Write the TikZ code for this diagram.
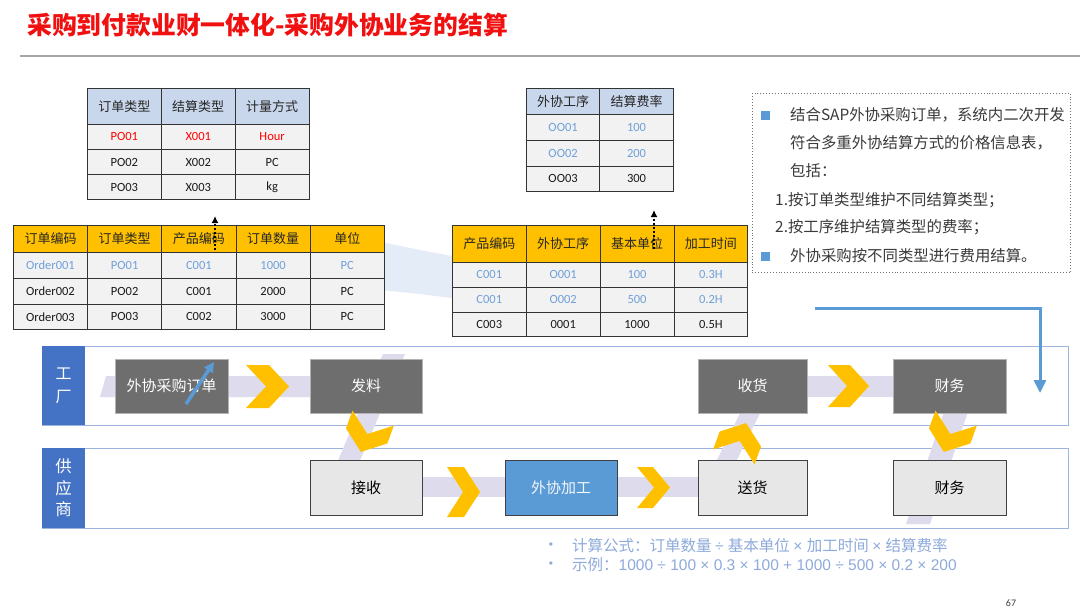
\documentclass[tikz,border=0pt]{standalone}
\usepackage{fontspec}
\setmainfont{Carlito}
\newfontfamily\cjk{Noto Sans CJK SC}
\newfontfamily\arialf{Liberation Sans}
\usetikzlibrary{matrix,arrows.meta}
\definecolor{titlered}{HTML}{F01010}
\definecolor{hdrblue}{HTML}{C9D7EC}
\definecolor{rowgray}{HTML}{F2F2F2}
\definecolor{orangehdr}{HTML}{FFC000}
\definecolor{datablue}{HTML}{6F9FD8}
\definecolor{laneblue}{HTML}{4472C4}
\definecolor{lanebd}{HTML}{9DB5DE}
\definecolor{boxdark}{HTML}{6E6E6E}
\definecolor{boxlight}{HTML}{E7E7E7}
\definecolor{procblue}{HTML}{5B9BD5}
\definecolor{bandlav}{HTML}{DEDCEC}
\definecolor{chevy}{HTML}{FFC000}
\definecolor{arrowblue}{HTML}{5B9BD5}
\definecolor{formblue}{HTML}{8EAADB}
\definecolor{notegray}{HTML}{3A3A3A}
\definecolor{paleblue}{HTML}{E4ECF7}
\newcommand\hchevron[5]{\fill[chevy] (#1,#2) -- (#1+#5,#2) -- (#1+#3,#2+#4/2) -- (#1+#5,#2+#4) -- (#1,#2+#4) -- (#1+#3-#5,#2+#4/2) -- cycle;}
\newcommand\vchevron[6]{%
  \begin{scope}[shift={(#1,#2)}, rotate=#6]
  \fill[chevy] (-#3/2,-#4/2) -- (0,#4/2-#5) -- (#3/2,-#4/2) -- (#3/2,-#4/2+#5) -- (0,#4/2) -- (-#3/2,-#4/2+#5) -- cycle;
  \end{scope}}
\tikzset{
  tbl/.style={matrix of nodes, inner sep=0pt, outer sep=0pt, matrix anchor=north west,
    column sep=-0.8pt, row sep=-0.8pt,
    nodes={draw=black!80, line width=0.8pt, fill=rowgray, minimum width=#1, minimum height=25pt,
      inner sep=0pt, outer sep=0pt, anchor=center, text=black!90, font=\fontsize{12.5}{14}\selectfont}},
  hdrcells/.style 2 args={fill=#1, minimum height=#2, font=\cjk\fontsize{13}{15}\selectfont, text=black!85},
  notetext/.style={anchor=west, inner sep=0pt, font=\cjk\fontsize{15.4}{18}\selectfont, text=notegray},
  sqbullet/.style={fill=procblue, minimum size=9pt, inner sep=0pt},
  laneframe/.style={draw=lanebd, line width=0.9pt, fill=white, anchor=north west, minimum width=1026pt, inner sep=0pt},
  lanelabel/.style={fill=laneblue, anchor=north west, minimum width=43pt, inner sep=0pt, text=white, align=center},
  darkbox/.style={fill=boxdark, draw=gray!60, line width=0.6pt, text=white, minimum width=#1, minimum height=54pt,
    inner sep=0pt, font=\cjk\fontsize{15}{18}\selectfont},
  lightbox/.style={fill=boxlight, draw=black!75, line width=0.8pt, text=black, minimum width=#1, minimum height=55pt,
    inner sep=0pt, font=\cjk\fontsize{15}{18}\selectfont},
  formula/.style={anchor=west, inner sep=0pt, text=formblue, font=\fontsize{15.5}{18}\selectfont},
}
\begin{document}
\begin{tikzpicture}[x=1pt,y=-1pt]
\useasboundingbox (0,0) rectangle (1080,613);
\fill[white] (0,0) rectangle (1080,613);

% title
\node[anchor=west, inner sep=0pt, text=titlered, font=\cjk\bfseries\fontsize{24.8}{28}\selectfont] (title) at (27,25) {采购到付款业财一体化-采购外协业务的结算};
\coordinate (tl1) at (20,56);
\coordinate (tl2) at (1080,56);
\draw[black!35, line width=1.5pt] (tl1) -- (tl2);

% pale blue link between tables
\fill[paleblue] (381,242) -- (420,250) -- (452,256) -- (452,298) -- (420,294) -- (381,290) -- cycle;

% table 1
\matrix (t1) [tbl=73.9pt,
  row 1/.style={nodes={hdrcells={hdrblue}{36pt}}},
  row 2/.style={nodes={text=red, minimum height=25.1pt}},
  row 3/.style={nodes={minimum height=25.1pt}},
  row 4/.style={nodes={minimum height=25.1pt}}] at (87,88) {
订单类型 & 结算类型 & 计量方式 \\
PO01 & X001 & Hour \\
PO02 & X002 & PC \\
PO03 & X003 & kg \\
};

% table 2
\matrix (t2) [tbl=74.2pt,
  row 1/.style={nodes={hdrcells={orangehdr}{27pt}}},
  row 2/.style={nodes={text=datablue, minimum height=25.8pt}},
  row 3/.style={nodes={minimum height=25.8pt}},
  row 4/.style={nodes={minimum height=25.8pt}}] at (13,225) {
订单编码 & 订单类型 & 产品编码 & 订单数量 & 单位 \\
Order001 & PO01 & C001 & 1000 & PC \\
Order002 & PO02 & C001 & 2000 & PC \\
Order003 & PO03 & C002 & 3000 & PC \\
};

% table 3
\matrix (t3) [tbl=73.4pt,
  row 1/.style={nodes={hdrcells={hdrblue}{26pt}}},
  row 2/.style={nodes={text=datablue, minimum height=25.8pt}},
  row 3/.style={nodes={text=datablue, minimum height=25.8pt}},
  row 4/.style={nodes={minimum height=25.8pt}}] at (526,88) {
外协工序 & 结算费率 \\
OO01 & 100 \\
OO02 & 200 \\
OO03 & 300 \\
};

% table 4
\matrix (t4) [tbl=73.85pt,
  row 1/.style={nodes={hdrcells={orangehdr}{37pt}}},
  row 2/.style={nodes={text=datablue, minimum height=24.8pt}},
  row 3/.style={nodes={text=datablue, minimum height=24.8pt}},
  row 4/.style={nodes={minimum height=24.8pt}}] at (452,225) {
产品编码 & 外协工序 & 基本单位 & 加工时间 \\
C001 & O001 & 100 & 0.3H \\
C001 & O002 & 500 & 0.2H \\
C003 & 0001 & 1000 & 0.5H \\
};

% dotted arrows
\coordinate (d1s) at (215,250);
\coordinate (d1e) at (215,216);
\draw[black, dotted, line width=2pt, -{Latex[length=7pt,width=7pt]}] (d1s) -- (d1e);
\coordinate (d2s) at (654,249);
\coordinate (d2e) at (654,210);
\draw[black, dotted, line width=2pt, -{Latex[length=7pt,width=7pt]}] (d2s) -- (d2e);

% note box
\node[draw=black!55, dotted, line width=0.9pt, anchor=north west, minimum width=318pt, minimum height=179pt, inner sep=0pt] (note) at (752,93) {};
\node[sqbullet] (q1) at (765,115) {};
\node[notetext] (n1) at (790,115) {结合SAP外协采购订单，系统内二次开发};
\node[notetext] (n2) at (790,143) {符合多重外协结算方式的价格信息表，};
\node[notetext] (n3) at (790,171) {包括：};
\node[notetext] (n4) at (775,200) {1.按订单类型维护不同结算类型；};
\node[notetext] (n5) at (775,227) {2.按工序维护结算类型的费率；};
\node[sqbullet] (q2) at (765,256) {};
\node[notetext] (n6) at (790,256) {外协采购按不同类型进行费用结算。};

% lanes
\node[laneframe, minimum height=79pt] (lane1) at (42,346) {};
\node[laneframe, minimum height=80pt] (lane2) at (42,448) {};

% lavender bands
\fill[bandlav] (100,397) -- (106,376) -- (392,376) -- (392,397) -- cycle;
\fill[bandlav] (383,354) -- (405,354) -- (356,470) -- (334,470) -- cycle;
\fill[bandlav] (360,477) rectangle (740,497);
\fill[bandlav] (754,385) -- (774,385) -- (727,480) -- (707,480) -- cycle;
\fill[bandlav] (752,376) rectangle (962,397);
\fill[bandlav] (953,385) -- (977,385) -- (930,524) -- (906,524) -- cycle;

% lane labels
\node[lanelabel, minimum height=79pt, font=\cjk\fontsize{16}{23}\selectfont] (lab1) at (42,346) {工\\厂};
\node[lanelabel, minimum height=80pt, font=\cjk\fontsize{16.5}{21.5}\selectfont] (lab2) at (42,448) {供\\应\\商};

% boxes
\node[darkbox=113pt] (b1) at (171.5,386) {外协采购订单};
\node[darkbox=112pt] (b2) at (366,386) {发料};
\node[darkbox=109pt] (b3) at (752.5,386) {收货};
\node[darkbox=113pt] (b4) at (949.5,386) {财务};
\node[lightbox=112pt] (c1) at (366,487.5) {接收};
\node[lightbox=112pt, fill=procblue, text=white!92!procblue] (c2) at (561,487.5) {外协加工};
\node[lightbox=109pt] (c3) at (752.5,487.5) {送货};
\node[lightbox=113pt] (c4) at (949.5,487.5) {财务};

% chevrons
\hchevron{246}{365}{43}{43}{23}
\hchevron{828}{365}{41}{42}{22}
\hchevron{447}{467}{33}{50}{17}
\hchevron{637}{467}{33}{41}{16}
\vchevron{367}{435}{44}{36}{19}{-20}
\vchevron{740}{440}{44}{36}{19}{160}
\vchevron{950}{435}{44}{36}{19}{-20}

% blue arrow in first box
\coordinate (ua1) at (186,404);
\coordinate (ua2) at (214,362);
\draw[arrowblue, line width=3.5pt, -{Triangle[length=10pt,width=10pt]}] (ua1) -- (ua2);

% big blue arrow
\coordinate (ba1) at (815,308);
\coordinate (ba2) at (1040,393);
\draw[arrowblue, line width=3pt, -{Triangle[length=13pt,width=12pt]}] (ba1) -| (ba2);

% formula
\node[anchor=center, inner sep=0pt, text=formblue, font=\arialf\fontsize{12}{14}\selectfont] (fb1) at (551,546) {•};
\node[anchor=center, inner sep=0pt, text=formblue, font=\arialf\fontsize{12}{14}\selectfont] (fb2) at (551,565) {•};
\node[formula] (f1) at (572,546) {\cjk 计算公式：订单数量 \arialf ÷ \cjk 基本单位 \arialf × \cjk 加工时间 \arialf × \cjk 结算费率};
\node[formula] (f2) at (572,565) {{\cjk 示例：}{\arialf 1000 ÷ 100 × 0.3 × 100 + 1000 ÷ 500 × 0.2 × 200}};

% page number
\node[inner sep=0pt, text=black!75, font=\fontsize{10}{12}\selectfont] (pg) at (1011,603) {67};
\end{tikzpicture}
\end{document}
